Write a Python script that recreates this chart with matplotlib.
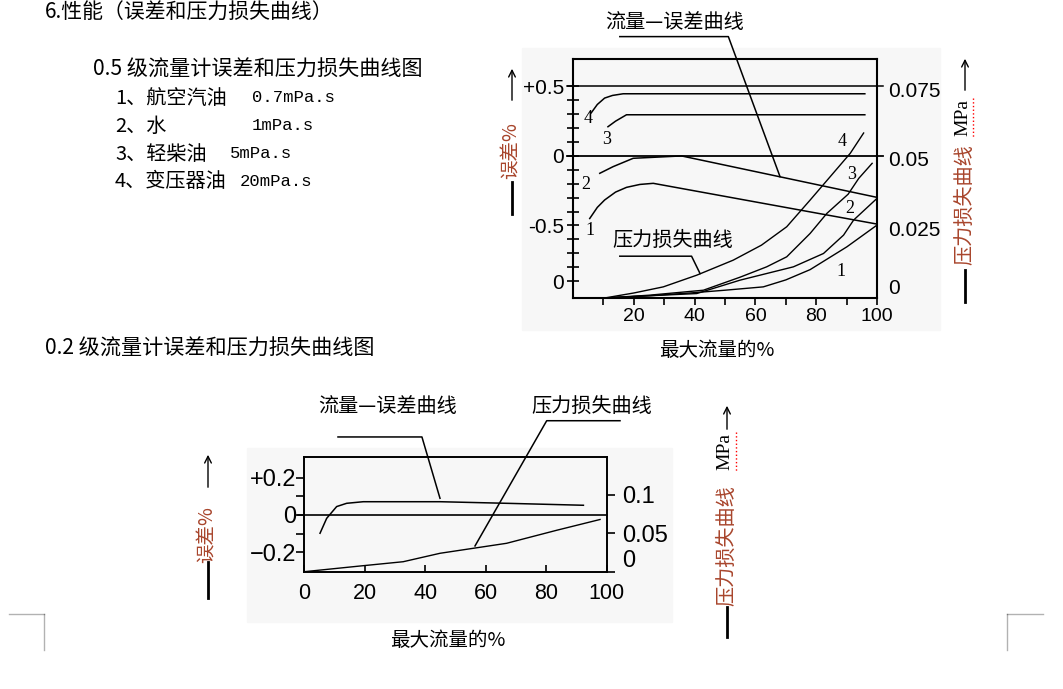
import matplotlib.pyplot as plt
from matplotlib.lines import Line2D
from matplotlib.patches import Rectangle, FancyArrowPatch

W, H = 1063, 689

plt.rcParams['font.family'] = ['Noto Sans CJK SC', 'DejaVu Sans']

# ---------- 0.5 级: 流量-误差曲线 (误差 %) ----------
flow_e1 = [5.5, 8, 10.4, 14, 17.6, 22, 26.4, 100]
err_1 = [-0.45, -0.37, -0.317, -0.26, -0.226, -0.205, -0.197, -0.49]
flow_e2 = [8.8, 13.2, 19.8, 35.7, 100]
err_2 = [-0.125, -0.077, -0.017, 0.0, -0.298]
flow_e3 = [11.5, 14, 17.6, 96]
err_3 = [0.21, 0.25, 0.296, 0.296]
flow_e4 = [6, 8, 10.4, 13, 16.5, 96]
err_4 = [0.31, 0.37, 0.416, 0.435, 0.447, 0.447]

# ---------- 0.5 级: 压力损失曲线 (MPa) ----------
flow_p1 = [10.4, 25, 38.5, 50, 62.6, 70, 78, 90.1, 100]
pres_1 = [0, 0.0008, 0.0018, 0.0028, 0.004, 0.0065, 0.0102, 0.0184, 0.0262]
flow_p2 = [10.4, 25, 40.7, 54.9, 72.5, 82.4, 89, 92.3, 100]
pres_2 = [0, 0.0008, 0.0016, 0.0064, 0.0112, 0.016, 0.0226, 0.028, 0.0358]
flow_p3 = [10.4, 25, 42.9, 55, 63.7, 70.3, 78, 83.5, 90.5, 94, 98.4]
pres_3 = [0, 0.001, 0.0028, 0.0075, 0.0112, 0.0148, 0.0232, 0.0304, 0.0373, 0.043, 0.0484]
flow_p4 = [10.4, 20, 29.7, 40.7, 52.7, 62, 70.3, 78, 84.6, 91.2, 95.6]
pres_4 = [0, 0.0018, 0.004, 0.0082, 0.0136, 0.019, 0.0256, 0.0352, 0.0436, 0.052, 0.0593]

# ---------- 0.2 级 ----------
flow_b_err = [5.2, 7.4, 10.7, 14, 19.5, 44.9, 66.9, 92.3]
err_b = [-0.098, -0.018, 0.045, 0.0625, 0.071, 0.071, 0.0625, 0.052]
flow_b_pres = [0, 18.4, 32.7, 44.9, 66.9, 83.5, 97.8]
pres_b = [0, 0.0074, 0.013, 0.024, 0.037, 0.054, 0.068]

fluids = ["1、航空汽油", "2、水", "3、轻柴油", "4、变压器油"]
viscosity = ["0.7mPa.s", "1mPa.s", "5mPa.s", "20mPa.s"]

RED = '#a8452c'
TICKFONT = ['Noto Sans Condensed', 'Liberation Sans']
SERIF = ['Liberation Serif', 'DejaVu Serif']


def fx(px):
    return px / W


def fy(py):
    return 1 - py / H


def box(l, t, r, b):
    return [fx(l), fy(b), (r - l) / W, (b - t) / H]


fig = plt.figure(figsize=(W / 100, H / 100), dpi=100)


def ftext(px, py, s, **kw):
    fig.text(fx(px), fy(py), s, **kw)


def fline(x0, y0, x1, y1, color='k', **kw):
    fig.add_artist(Line2D([fx(x0), fx(x1)], [fy(y0), fy(y1)],
                          transform=fig.transFigure, color=color, **kw))


def farrow(x, y0, y1):
    fig.add_artist(FancyArrowPatch((fx(x), fy(y0)), (fx(x), fy(y1)),
                                   transform=fig.transFigure, arrowstyle='->',
                                   mutation_scale=12, lw=1.0, color='k'))


# scanned-figure backgrounds
fig.add_artist(Rectangle((fx(522), fy(330)), (940 - 522) / W, (330 - 48) / H,
                         transform=fig.transFigure, color='#f7f7f7', zorder=-5))
fig.add_artist(Rectangle((fx(247), fy(622)), (672 - 247) / W, (622 - 448) / H,
                         transform=fig.transFigure, color='#f7f7f7', zorder=-5))

# page corner marks
fline(9, 614, 44, 614, lw=1, alpha=0.3)
fline(44, 614, 44, 650, lw=1, alpha=0.3)
fline(1007, 614, 1043, 614, lw=1, alpha=0.3)
fline(1007, 614, 1007, 650, lw=1, alpha=0.3)

# left-hand document text
ftext(45, 13, "6.性能（误差和压力损失曲线）", fontsize=15, va='center')
ftext(93, 70, "0.5 级流量计误差和压力损失曲线图", fontsize=15.2, va='center')
value_x = [252, 252, 230, 240]
for i, (name, vis) in enumerate(zip(fluids, viscosity)):
    y = 98 + i * 28
    ftext(115, y, name, fontsize=14.5, va='center')
    ftext(value_x[i], y - 1, vis, fontsize=12.4, va='center',
          family=['Liberation Mono', 'DejaVu Sans Mono'])
ftext(45, 349, "0.2 级流量计误差和压力损失曲线图", fontsize=15.2, va='center')

# ================= 0.5 级 chart =================
ax1 = fig.add_axes(box(573, 59, 877, 298))
ax1.set_facecolor('none')
ax1.set_xlim(0, 100)
ax1.set_ylim(-1.0216, 0.697)
for s in ax1.spines.values():
    s.set_linewidth(1.5)

for fl, e in [(flow_e1, err_1), (flow_e2, err_2), (flow_e3, err_3), (flow_e4, err_4)]:
    ax1.plot(fl, e, color='k', lw=1.1)
ax1.axhline(0.5, xmin=-0.021, xmax=1.02, clip_on=False, color='k', lw=1.1)
ax1.axhline(0, xmin=-0.021, xmax=1.02, clip_on=False, color='k', lw=1.3)

ax1.set_yticks([0.5, 0, -0.5, -0.9])
ax1.set_yticklabels(['+0.5', '0', '-0.5', '0'], family=TICKFONT, fontsize=15)
ax1.set_yticks([-0.8, -0.7, -0.6, -0.4, -0.3, -0.2, -0.1, 0.1, 0.2, 0.3, 0.4], minor=True)
ax1.tick_params(axis='y', which='both', direction='inout', length=9, width=1.2, pad=2)
ax1.set_xticks([20, 40, 60, 80, 100])
ax1.set_xticklabels(['20', '40', '60', '80', '100'], family=TICKFONT, fontsize=14)
ax1.set_xticks([10, 30, 50, 70, 90], minor=True)
ax1.tick_params(axis='x', which='both', direction='out', length=5, width=1.2, pad=2)

ax2 = ax1.twinx()
ax2.set_ylim(0, 0.0859)
for s in ax2.spines.values():
    s.set_visible(False)
for fl, p in [(flow_p1, pres_1), (flow_p2, pres_2), (flow_p3, pres_3), (flow_p4, pres_4)]:
    ax2.plot(fl, p, color='k', lw=1.0)
ax2.set_yticks([0, 0.025, 0.05, 0.075])
ax2.set_yticklabels(['0', '0.025', '0.05', '0.075'], family=TICKFONT, fontsize=15)
ax2.get_yticklabels()[0].set_va('bottom')
ax2.tick_params(axis='y', length=0, pad=8)

num_font = dict(family=SERIF, fontsize=13, ha='center', va='center')
for x, y, s in [(4.9, 0.27, '4'), (11, 0.115, '3'), (4.2, -0.204, '2'), (5.7, -0.534, '1'),
                (88.5, 0.103, '4'), (91.8, -0.137, '3'), (91.2, -0.377, '2'), (88.1, -0.834, '1')]:
    ax1.text(x, y, s, **num_font)

# leader lines and captions
ax1.plot([15.4, 51.1, 68.1], [0.858, 0.858, -0.149], color='k', lw=1.1, clip_on=False)
ax1.plot([15.4, 39, 41.8], [-0.721, -0.721, -0.846], color='k', lw=1.1, clip_on=False)
ftext(675, 22, "流量—误差曲线", fontsize=14.5, ha='center', va='center')
ftext(673, 240, "压力损失曲线", fontsize=14.5, ha='center', va='center')
ftext(717, 350, "最大流量的%", fontsize=14, ha='center', va='center')

# vertical axis captions
farrow(512, 103, 66)
ftext(511, 151, "误差%", fontsize=14, color=RED, rotation=90, ha='center', va='center')
fline(512, 182, 512, 214, lw=2)
farrow(965, 93, 56)
ftext(963, 117, "MPa", fontsize=14, rotation=90, ha='center', va='center', family=SERIF)
fline(973, 98, 973, 137, color='red', lw=1, ls=':')
ftext(965, 205, "压力损失曲线", fontsize=14.5, color=RED, rotation=90, ha='center', va='center')
fline(965, 270, 965, 302, lw=2)

# ================= 0.2 级 chart =================
ax3 = fig.add_axes(box(304.3, 457.3, 606.7, 571.7))
ax3.set_facecolor('none')
ax3.set_xlim(0, 100)
ax3.set_ylim(-0.304, 0.309)
for s in ax3.spines.values():
    s.set_linewidth(1.4)
ax3.plot(flow_b_err, err_b, color='k', lw=1.1)
ax3.axhline(0, xmin=-0.021, xmax=1, clip_on=False, color='k', lw=1.2)
ax3.set_yticks([0.2, 0, -0.2])
ax3.set_yticklabels(['+0.2', '0', '−0.2'], family=TICKFONT, fontsize=17)
ax3.set_yticks([-0.1, 0.1], minor=True)
ax3.tick_params(axis='y', which='both', direction='out', length=6, width=1.2, pad=0)
ax3.set_xticks([0, 20, 40, 60, 80, 100])
ax3.set_xticklabels(['0', '20', '40', '60', '80', '100'], family=TICKFONT, fontsize=15.5)
ax3.tick_params(axis='x', direction='in', length=5, width=1.2, pad=8)

ax4 = ax3.twinx()
ax4.set_ylim(0, 0.149)
for s in ax4.spines.values():
    s.set_visible(False)
ax4.plot(flow_b_pres, pres_b, color='k', lw=1.0)
ax4.set_yticks([0, 0.05, 0.1])
ax4.set_yticklabels(['0', '0.05', '0.1'], family=TICKFONT, fontsize=17)
ax4.get_yticklabels()[0].set_va('bottom')
ax4.tick_params(axis='y', direction='out', length=6, width=1.2, pad=5)

ax3.plot([11.14, 38.9, 44.87], [0.418, 0.418, 0.0894], color='k', lw=1.1, clip_on=False)
ax3.plot([104.4, 80.16, 56.45], [0.505, 0.505, -0.166], color='k', lw=1.1, clip_on=False)
ftext(388, 406, "流量—误差曲线", fontsize=14.5, ha='center', va='center')
ftext(592, 406, "压力损失曲线", fontsize=14.5, ha='center', va='center')
ftext(448, 640, "最大流量的%", fontsize=14, ha='center', va='center')

farrow(208, 490, 452)
ftext(207, 535, "误差%", fontsize=14, color=RED, rotation=90, ha='center', va='center')
fline(208, 562, 208, 598, lw=2)
farrow(727, 432, 403)
ftext(725, 452, "MPa", fontsize=14, rotation=90, ha='center', va='center', family=SERIF)
fline(736, 432, 736, 472, color='red', lw=1, ls=':')
ftext(727, 546, "压力损失曲线", fontsize=14.5, color=RED, rotation=90, ha='center', va='center')
fline(727, 607, 727, 637, lw=2)

fig.savefig('out.png', dpi=100)
